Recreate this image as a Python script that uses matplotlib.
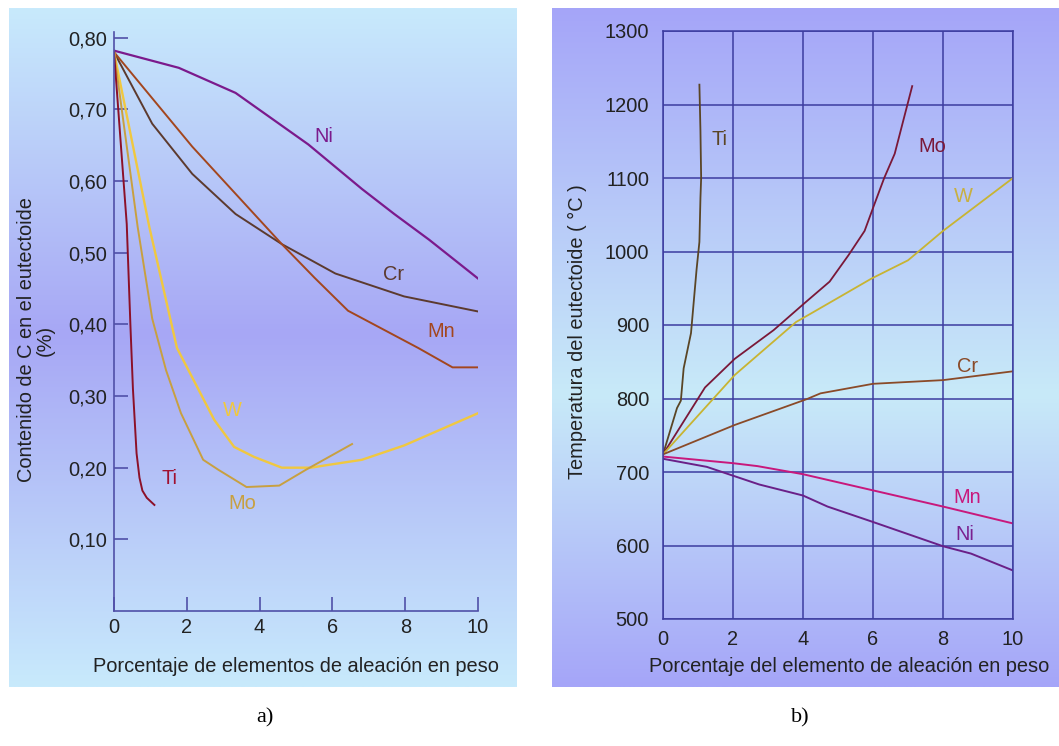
import numpy as np
import matplotlib
matplotlib.use("Agg")
from matplotlib import pyplot as plt
from matplotlib.colors import LinearSegmentedColormap

plt.rcParams['font.family'] = ['Liberation Sans', 'DejaVu Sans']

# ---- datos grafico a) : contenido de C en el eutectoide (%)
xa_ticks = [0, 2, 4, 6, 8, 10]
ya_ticks = [0.1, 0.2, 0.3, 0.4, 0.5, 0.6, 0.7, 0.8]
ya_labels = ["0,10", "0,20", "0,30", "0,40", "0,50", "0,60", "0,70", "0,80"]

ni_a_x = [0, 1.78, 3.34, 5.34, 6.81, 7.70, 8.66, 10]
ni_a_y = [0.782, 0.758, 0.723, 0.651, 0.589, 0.554, 0.518, 0.464]
cr_a_x = [0, 1.05, 2.15, 3.34, 4.61, 6.08, 7.97, 10]
cr_a_y = [0.78, 0.680, 0.610, 0.554, 0.512, 0.471, 0.439, 0.418]
mn_a_x = [0, 2.15, 4.61, 5.51, 6.43, 8.36, 9.3, 10]
mn_a_y = [0.78, 0.648, 0.512, 0.465, 0.419, 0.367, 0.340, 0.340]
w_a_x = [0, 0.97, 1.73, 2.75, 3.3, 3.85, 4.61, 5.41, 5.9, 6.81, 7.97, 10]
w_a_y = [0.78, 0.536, 0.367, 0.267, 0.229, 0.215, 0.200, 0.200, 0.204, 0.211, 0.231, 0.276]
mo_a_x = [0, 0.65, 1.05, 1.43, 1.84, 2.45, 2.87, 3.64, 4.54, 5.27, 6.54]
mo_a_y = [0.78, 0.536, 0.408, 0.336, 0.276, 0.211, 0.197, 0.173, 0.175, 0.197, 0.233]
ti_a_x = [0, 0.35, 0.45, 0.52, 0.62, 0.70, 0.78, 0.90, 1.11]
ti_a_y = [0.78, 0.54, 0.40, 0.31, 0.22, 0.186, 0.168, 0.158, 0.148]

# ---- datos grafico b) : temperatura del eutectoide (C)
xb_ticks = [0, 2, 4, 6, 8, 10]
yb_ticks = [500, 600, 700, 800, 900, 1000, 1100, 1200, 1300]

ti_b_x = [0, 0.4, 0.51, 0.59, 0.8, 0.96, 1.04, 1.07, 1.09, 1.07, 1.04]
ti_b_y = [724, 787, 797, 841, 889, 976, 1013, 1073, 1100, 1164, 1227]
mo_b_x = [0, 1.2, 2.05, 3.16, 4.05, 4.76, 5.3, 5.76, 6.03, 6.32, 6.62, 7.12]
mo_b_y = [724, 815, 854, 893, 930, 959, 995, 1028, 1063, 1100, 1133, 1225]
w_b_x = [0, 2.05, 3.8, 4.24, 5.95, 7.0, 8.0, 10]
w_b_y = [724, 832, 904, 916, 963, 988, 1028, 1100]
cr_b_x = [0, 2.05, 4.1, 4.5, 6.0, 8.0, 10]
cr_b_y = [724, 764, 799, 807, 820, 825, 837]
mn_b_x = [0, 2.0, 2.7, 4.0, 6.0, 8.0, 10]
mn_b_y = [721, 712, 708, 697, 675, 653, 630]
ni_b_x = [0, 1.25, 2.0, 2.75, 4.0, 4.7, 6.0, 8.0, 8.8, 10]
ni_b_y = [718, 707, 695, 683, 668, 653, 632, 599, 589, 566]

W, H = 1059, 746
fig = plt.figure(figsize=(W / 100, H / 100), dpi=100)
fig.patch.set_facecolor('white')

def px(l, t, r, b):
    # caja en pixeles (origen arriba a la izquierda) -> fraccion de figura
    return [l / W, (H - b) / H, (r - l) / W, (b - t) / H]

# fondos degradados
grad = np.linspace(0, 1, 256).reshape(-1, 1)
cm_a = LinearSegmentedColormap.from_list('a', [(0, '#c8eafc'), (0.48, '#a7a7f5'), (1, '#c8eafc')])
cm_b = LinearSegmentedColormap.from_list('b', [(0, '#a5a5f8'), (0.57, '#c8eaf9'), (1, '#a5a5f8')])
bga = fig.add_axes(px(9, 8, 517, 687))
bga.imshow(grad, aspect='auto', cmap=cm_a, extent=[0, 1, 1, 0])
bga.axis('off')
bgb = fig.add_axes(px(552, 8, 1059, 687))
bgb.imshow(grad, aspect='auto', cmap=cm_b, extent=[0, 1, 1, 0])
bgb.axis('off')

axcol = '#5050a8'
fs = 14.4

# ---------------- a)
ax1 = fig.add_axes(px(114, 32, 478, 611))
ax1.set_facecolor('none')
ax1.plot(ni_a_x, ni_a_y, color='#7b1a8c', lw=1.6)
ax1.plot(cr_a_x, cr_a_y, color='#5c3a2e', lw=1.4)
ax1.plot(mn_a_x, mn_a_y, color='#a3461e', lw=1.4)
ax1.plot(w_a_x, w_a_y, color='#f0c840', lw=1.7)
ax1.plot(mo_a_x, mo_a_y, color='#c8a040', lw=1.4)
ax1.plot(ti_a_x, ti_a_y, color='#8c1028', lw=1.4)
ax1.set_xlim(0, 10)
ax1.set_ylim(0, 0.808)
ax1.set_xticks(xa_ticks)
ax1.set_yticks(ya_ticks)
ax1.set_yticklabels(ya_labels)
for s in ['top', 'right']:
    ax1.spines[s].set_visible(False)
for s in ['left', 'bottom']:
    ax1.spines[s].set_color(axcol)
    ax1.spines[s].set_linewidth(1.2)
ax1.tick_params(direction='in', length=10, width=1.2, color=axcol, labelsize=fs, labelcolor='#222222')
ax1.tick_params(axis='x', pad=5)
ax1.tick_params(axis='y', pad=5)
ax1.text(5.5, 0.655, 'Ni', color='#7b1a8c', fontsize=fs)
ax1.text(7.4, 0.462, 'Cr', color='#5c3a2e', fontsize=fs)
ax1.text(8.6, 0.382, 'Mn', color='#a3461e', fontsize=fs)
ax1.text(3.0, 0.272, 'W', color='#f0c840', fontsize=fs)
ax1.text(3.15, 0.142, 'Mo', color='#c8a040', fontsize=fs)
ax1.text(1.3, 0.177, 'Ti', color='#a01030', fontsize=fs)

fig.text(36 / W, 1 - 340 / H, 'Contenido de C en el eutectoide\n(%)', rotation=90,
         ha='center', va='center', multialignment='center', fontsize=fs, color='#222222',
         linespacing=0.95)
fig.text(296 / W, 1 - 667 / H, 'Porcentaje de elementos de aleación en peso',
         ha='center', va='center', fontsize=fs, color='#222222')

# ---------------- b)
ax2 = fig.add_axes(px(663, 31, 1013, 619))
ax2.set_facecolor('none')
ax2.plot(ti_b_x, ti_b_y, color='#5a4525', lw=1.3)
ax2.plot(mo_b_x, mo_b_y, color='#7a1838', lw=1.3)
ax2.plot(w_b_x, w_b_y, color='#c8b432', lw=1.3)
ax2.plot(cr_b_x, cr_b_y, color='#8a4a28', lw=1.3)
ax2.plot(mn_b_x, mn_b_y, color='#c8187c', lw=1.4)
ax2.plot(ni_b_x, ni_b_y, color='#6a2088', lw=1.4)
ax2.set_xlim(0, 10)
ax2.set_ylim(500, 1300)
ax2.set_xticks(xb_ticks)
ax2.set_yticks(yb_ticks)
ax2.grid(True, color='#3c3ca0', lw=1.1)
for s in ax2.spines.values():
    s.set_color('#3c3ca0')
    s.set_linewidth(1.1)
ax2.tick_params(length=0, labelsize=fs, labelcolor='#222222')
ax2.tick_params(axis='x', pad=8)
ax2.tick_params(axis='y', pad=10)
ax2.text(1.4, 1145, 'Ti', color='#5a4525', fontsize=fs)
ax2.text(7.3, 1135, 'Mo', color='#7a1838', fontsize=fs)
ax2.text(8.3, 1068, 'W', color='#c8b040', fontsize=fs)
ax2.text(8.4, 836, 'Cr', color='#8a4a28', fontsize=fs)
ax2.text(8.3, 658, 'Mn', color='#c8187c', fontsize=fs)
ax2.text(8.35, 607, 'Ni', color='#7a2090', fontsize=fs)

fig.text(577 / W, 1 - 332 / H, 'Temperatura del eutectoide ( °C )', rotation=90,
         ha='center', va='center', fontsize=fs, color='#222222')
fig.text(849 / W, 1 - 667 / H, 'Porcentaje del elemento de aleación en peso',
         ha='center', va='center', fontsize=fs, color='#222222')

fig.text(265 / W, 1 - 718 / H, 'a)', ha='center', va='center', fontsize=16,
         family='Liberation Serif')
fig.text(800 / W, 1 - 718 / H, 'b)', ha='center', va='center', fontsize=16,
         family='Liberation Serif')

fig.savefig('out.png', dpi=100)
